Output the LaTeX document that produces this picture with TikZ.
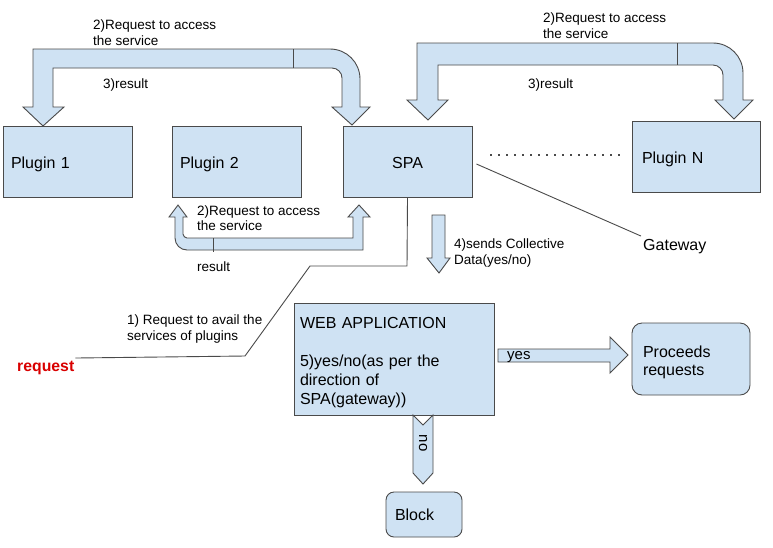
\documentclass[tikz,border=0pt]{standalone}
\usepackage{fontspec}
\setmainfont{Liberation Sans}
\definecolor{lblue}{HTML}{CFE2F3}
\definecolor{edge}{HTML}{4A4A4A}
\tikzset{
  plugbox/.style={draw=edge,fill=lblue,line width=0.9pt,minimum width=129pt,minimum height=71pt,
    text width=113pt,inner xsep=8pt,align=left,font=\fontsize{16}{19}\selectfont},
  band/.style={draw=edge,fill=lblue,line width=0.9pt,line join=miter},
  lbl/.style={inner sep=0pt,anchor=west,align=left,font=\fontsize{13.5}{16}\selectfont},
  wire/.style={draw=edge,line width=0.9pt},
}
\begin{document}
\begin{tikzpicture}[x=1pt,y=-1pt]
\useasboundingbox[fill=white] (0,0) rectangle (773,547);
% boxes
\foreach \i/\x in {1/67.5,2/236.5}
  \node[plugbox,text height=13.4pt,text depth=0pt] (p\i) at (\x,161.5) {Plugin \i};
\node[plugbox,align=center,text height=13.4pt,text depth=0pt] (spa) at (407.5,162) {SPA};
\node[plugbox,minimum width=128pt,inner xsep=10pt,text width=108pt,text height=13.4pt,text depth=0pt] (pN) at (696,157) {Plugin N};
\node[plugbox,minimum width=200pt,minimum height=112pt,inner xsep=6pt,text width=188pt,text height=17.7pt] (web) at (394,359)
  {WEB APPLICATION\\[19pt]5)yes/no(as per the\\direction of\\SPA(gateway))};
\node[plugbox,rounded corners=10pt,minimum width=118pt,minimum height=72pt,inner xsep=11pt,text width=96pt,
  text height=17.7pt,font=\fontsize{16}{18}\selectfont] (proc) at (691,359) {Proceeds\\requests};
\node[plugbox,rounded corners=8pt,minimum width=76pt,minimum height=45pt,inner xsep=9pt,text width=58pt] (blk) at (424,514.5) {Block};
% block arrows
\draw[band] (43,126) -- (64,107) -- (53,107) -- (53,68) -- (332,68) .. controls (337.5,68) and (342,72.5) .. (342,78)
  -- (342,107) -- (332,107) -- (352,125) -- (370,107) -- (360,107) -- (360,79)
  .. controls (360,62.4) and (346.6,49) .. (330,49) -- (33,49) -- (33,107) -- (23,107) -- cycle;
\draw[wire] (293,49) -- (293,68);
\draw[band] (428,120) -- (448,100) -- (438,100) -- (438,65) -- (713,65) .. controls (718.5,65) and (723,69.5) .. (723,75)
  -- (723,100) -- (715,100) -- (734,119) -- (753,100) -- (743,100) -- (743,73)
  .. controls (743,56.4) and (729.6,43) .. (713,43) -- (417,43) -- (417,100) -- (407,100) -- cycle;
\draw[wire] (677,43) -- (677,65);
\draw[band] (178,205) -- (187,217) -- (183,217) -- (183,234) .. controls (183,236) and (185,238) .. (187,238)
  -- (353,238) -- (353,217) -- (348,217) -- (359,205) -- (370,217) -- (363,217) -- (363,250) -- (187,250)
  .. controls (180.4,250) and (175,244.6) .. (175,238) -- (175,217) -- (169,217) -- cycle;
\draw[wire] (213,238) -- (213,252);
\draw[band] (432,215) -- (445,215) -- (445,258) -- (450,258) -- (439,273) -- (427,258) -- (432,258) -- cycle;
\draw[band] (498,349) -- (610,349) -- (610,337) -- (628,355) -- (610,373) -- (610,362) -- (498,362) -- cycle;
\draw[band] (413,415) -- (423,425) -- (433,415) -- (433,473) -- (423,484) -- (413,473) -- cycle;
% labels
\node[lbl] (l2a) at (93,33) {2)Request to access\\the service};
\node[lbl] (l3a) at (103,85) {3)result};
\node[lbl] (l2b) at (543,26) {2)Request to access\\the service};
\node[lbl] (l3b) at (528,85) {3)result};
\node[lbl,font=\fontsize{13.5}{15}\selectfont] (l2c) at (197,218.5) {2)Request to access\\the service};
\node[lbl] (lres) at (197,266.5) {result};
\node[lbl] (l1) at (127,328.5) {1) Request to avail the\\services of plugins};
\node[lbl] (l4) at (454,253.5) {4)sends Collective\\Data(yes/no)};
\node[lbl,font=\fontsize{16}{19}\selectfont,inner sep=2pt] (gw) at (641,246.5) {Gateway};
\node[lbl,font=\fontsize{15.8}{18}\bfseries,text=red!85!black,inner sep=1pt] (req) at (16,368) {request};
\node[lbl,font=\fontsize{15}{18}\selectfont] (yes) at (507,357) {yes};
\node[font=\fontsize{15}{18}\selectfont,rotate=-90,inner sep=0pt] (no) at (423,443) {no};
% connectors
\draw[wire] (spa.south) -- (407,266) -- (310,266) -- (245,356) -- ([yshift=2pt]req.north east);
\draw[wire] ([xshift=4pt,yshift=-2pt]spa.east) -- ([yshift=1pt]gw.north west);
\draw[edge,line width=1.8pt,dash pattern=on 1.8pt off 6.2pt] ([xshift=18pt,yshift=7pt]spa.east) -- ([xshift=-12pt,yshift=2pt]pN.west);
\end{tikzpicture}
\end{document}
